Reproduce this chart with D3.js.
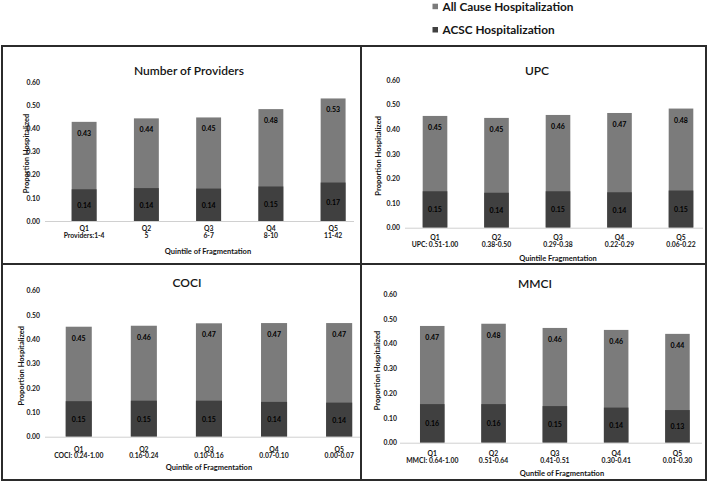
<!DOCTYPE html>
<html>
<head>
<meta charset="utf-8">
<script src="https://cdn.jsdelivr.net/npm/d3@7"></script>
<style>
  html, body { margin: 0; padding: 0; background: #fff; }
  svg { display: block; font-family: Lato, "Open Sans", sans-serif; }
</style>
</head>
<body>
<svg id="chart" width="709" height="482"></svg>
<script>
// ---- data ----
const quintiles = ["Q1", "Q2", "Q3", "Q4", "Q5"];
const yTicks = [0, 0.1, 0.2, 0.3, 0.4, 0.5, 0.6];
const seriesNames = ["All Cause Hospitalization", "ACSC Hospitalization"];

const npRanges = ["Providers:1-4", "5", "6-7", "8-10", "11-42"];
const npAllCause = [0.428, 0.443, 0.447, 0.483, 0.529];
const npACSC = [0.137, 0.142, 0.140, 0.149, 0.166];

const upcRanges = ["UPC: 0.51-1.00", "0.38-0.50", "0.29-0.38", "0.22-0.29", "0.06-0.22"];
const upcAllCause = [0.454, 0.446, 0.458, 0.466, 0.484];
const upcACSC = [0.148, 0.142, 0.148, 0.144, 0.151];

const cociRanges = ["COCI: 0.24-1.00", "0.16-0.24", "0.10-0.16", "0.07-0.10", "0.00-0.07"];
const cociAllCause = [0.452, 0.456, 0.466, 0.467, 0.467];
const cociACSC = [0.146, 0.148, 0.148, 0.143, 0.140];

const mmciRanges = ["MMCI: 0.64-1.00", "0.51-0.64", "0.41-0.51", "0.30-0.41", "0.01-0.30"];
const mmciAllCause = [0.472, 0.481, 0.464, 0.456, 0.440];
const mmciACSC = [0.156, 0.156, 0.148, 0.142, 0.132];

const panelTitles = ["Number of Providers", "UPC", "COCI", "MMCI"];
const xTitles = ["Quintile of Fragmentation", "Quintile Fragmentation", "Quintile of Fragmentation", "Quntile of Fragmentation"];
const yTitle = "Proportion Hospitalized";

// ---- layout ----
const colAll = "#7b7b7b", colACSC = "#404040", txt = "#151515";
const panels = [
  { title: panelTitles[0], xTitle: xTitles[0], ranges: npRanges, all: npAllCause, acsc: npACSC,
    tx: 189, ty: 70, y0: 221, y1: 82, tickX: 40, ytX: 26, bx: [53, 364.25], ax: [45, 354], l1: 228, l2: 235, lt: 251, xtX: 208 },
  { title: panelTitles[1], xTitle: xTitles[1], ranges: upcRanges, all: upcAllCause, acsc: upcACSC,
    tx: 537, ty: 70, y0: 227.7, y1: 80, tickX: 400, ytX: 378, bx: [404.25, 711.75], ax: [405, 703], l1: 237, l2: 244, lt: 258, xtX: 558 },
  { title: panelTitles[2], xTitle: xTitles[2], ranges: cociRanges, all: cociAllCause, acsc: cociACSC,
    tx: 187, ty: 282, y0: 436.7, y1: 290.7, tickX: 40, ytX: 21, bx: [46.2, 371.7], ax: [45, 360], l1: 448.5, l2: 455, lt: 467, xtX: 209 },
  { title: panelTitles[3], xTitle: xTitles[3], ranges: mmciRanges, all: mmciAllCause, acsc: mmciACSC,
    tx: 535, ty: 283, y0: 442.7, y1: 294.3, tickX: 397, ytX: 377, bx: [401.6, 708.1], ax: [400, 702], l1: 453, l2: 460, lt: 473.5, xtX: 562 }
];

const svg = d3.select("#chart");
const fmt = d3.format(".2f");

panels.forEach(p => {
  const g = svg.append("g");
  const y = d3.scaleLinear().domain([0, 0.6]).range([p.y0, p.y1]);
  const x = d3.scaleBand().domain(quintiles).range(p.bx).paddingInner(0.6).paddingOuter(0.3);

  // title
  g.append("text").attr("x", p.tx).attr("y", p.ty).attr("text-anchor", "middle")
    .attr("dominant-baseline", "central").attr("font-size", 12).attr("font-weight", 600)
    .attr("fill", txt).text(p.title);

  // y axis (labels only)
  const yAxis = d3.axisLeft(y).tickValues(yTicks).tickFormat(fmt).tickSize(0).tickPadding(0);
  const ya = g.append("g").attr("transform", `translate(${p.tickX},0)`).call(yAxis);
  ya.select(".domain").remove();
  ya.selectAll("text").attr("font-size", 6.8).attr("font-weight", "bold").attr("fill", txt);
  ya.attr("font-family", null);

  // y title
  g.append("text").attr("transform", `translate(${p.ytX},${(p.y0 + p.y1) / 2 + 2}) rotate(-90)`)
    .attr("text-anchor", "middle").attr("dominant-baseline", "central")
    .attr("font-size", 7.5).attr("font-weight", "bold").attr("fill", txt).text(yTitle);

  // bars
  g.selectAll(".all").data(p.all).join("rect")
    .attr("x", (d, i) => x(quintiles[i])).attr("width", x.bandwidth())
    .attr("y", d => y(d)).attr("height", d => y(0) - y(d)).attr("fill", colAll);
  g.selectAll(".acsc").data(p.acsc).join("rect")
    .attr("x", (d, i) => x(quintiles[i])).attr("width", x.bandwidth())
    .attr("y", d => y(d)).attr("height", d => y(0) - y(d)).attr("fill", colACSC);

  // x axis baseline
  g.append("line").attr("x1", p.ax[0]).attr("x2", p.ax[1]).attr("y1", y(0) + 0.5).attr("y2", y(0) + 0.5)
    .attr("stroke", "#d0d0d0").attr("stroke-width", 1);

  // value labels
  g.selectAll(".lblAll").data(p.all).join("text")
    .attr("x", (d, i) => x(quintiles[i]) + x.bandwidth() / 2).attr("y", d => y(d) + 11)
    .attr("text-anchor", "middle").attr("dominant-baseline", "central")
    .attr("font-size", 7).attr("font-weight", "bold").attr("fill", "#000").text(d => fmt(d));
  g.selectAll(".lblAcsc").data(p.acsc).join("text")
    .attr("x", (d, i) => x(quintiles[i]) + x.bandwidth() / 2).attr("y", d => (y(d) + y(0)) / 2)
    .attr("text-anchor", "middle").attr("dominant-baseline", "central")
    .attr("font-size", 7).attr("font-weight", "bold").attr("fill", "#000").text(d => fmt(d));

  // x tick labels
  g.selectAll(".q").data(quintiles).join("text")
    .attr("x", d => x(d) + x.bandwidth() / 2).attr("y", p.l1)
    .attr("text-anchor", "middle").attr("dominant-baseline", "central")
    .attr("font-size", 6.8).attr("font-weight", "bold").attr("fill", txt).text(d => d);
  g.selectAll(".r").data(p.ranges).join("text")
    .attr("x", (d, i) => x(quintiles[i]) + x.bandwidth() / 2).attr("y", p.l2)
    .attr("text-anchor", "middle").attr("dominant-baseline", "central")
    .attr("font-size", 6.8).attr("font-weight", "bold").attr("fill", txt).text(d => d);

  // x title
  g.append("text").attr("x", p.xtX).attr("y", p.lt).attr("text-anchor", "middle")
    .attr("dominant-baseline", "central").attr("font-size", 7.5).attr("font-weight", "bold")
    .attr("fill", txt).text(p.xTitle);
});

// panel frame
const frame = svg.append("g").attr("fill", "none").attr("stroke", "#2b2b2b").attr("stroke-width", 2);
frame.append("rect").attr("x", 2).attr("y", 46).attr("width", 704).attr("height", 434);
frame.append("line").attr("x1", 361).attr("x2", 361).attr("y1", 46).attr("y2", 480);
frame.append("line").attr("x1", 2).attr("x2", 706).attr("y1", 264).attr("y2", 264);

// legend
const legend = svg.append("g");
const legY = [6.5, 29.8];
[colAll, colACSC].forEach((c, i) => {
  legend.append("rect").attr("x", 432.5).attr("y", legY[i] - 2.8).attr("width", 5.5).attr("height", 5.5).attr("fill", c);
  legend.append("text").attr("x", 442.5).attr("y", legY[i]).attr("dominant-baseline", "central")
    .attr("font-size", 11.8).attr("font-weight", "bold").attr("fill", txt).text(seriesNames[i]);
});
</script>
</body>
</html>
